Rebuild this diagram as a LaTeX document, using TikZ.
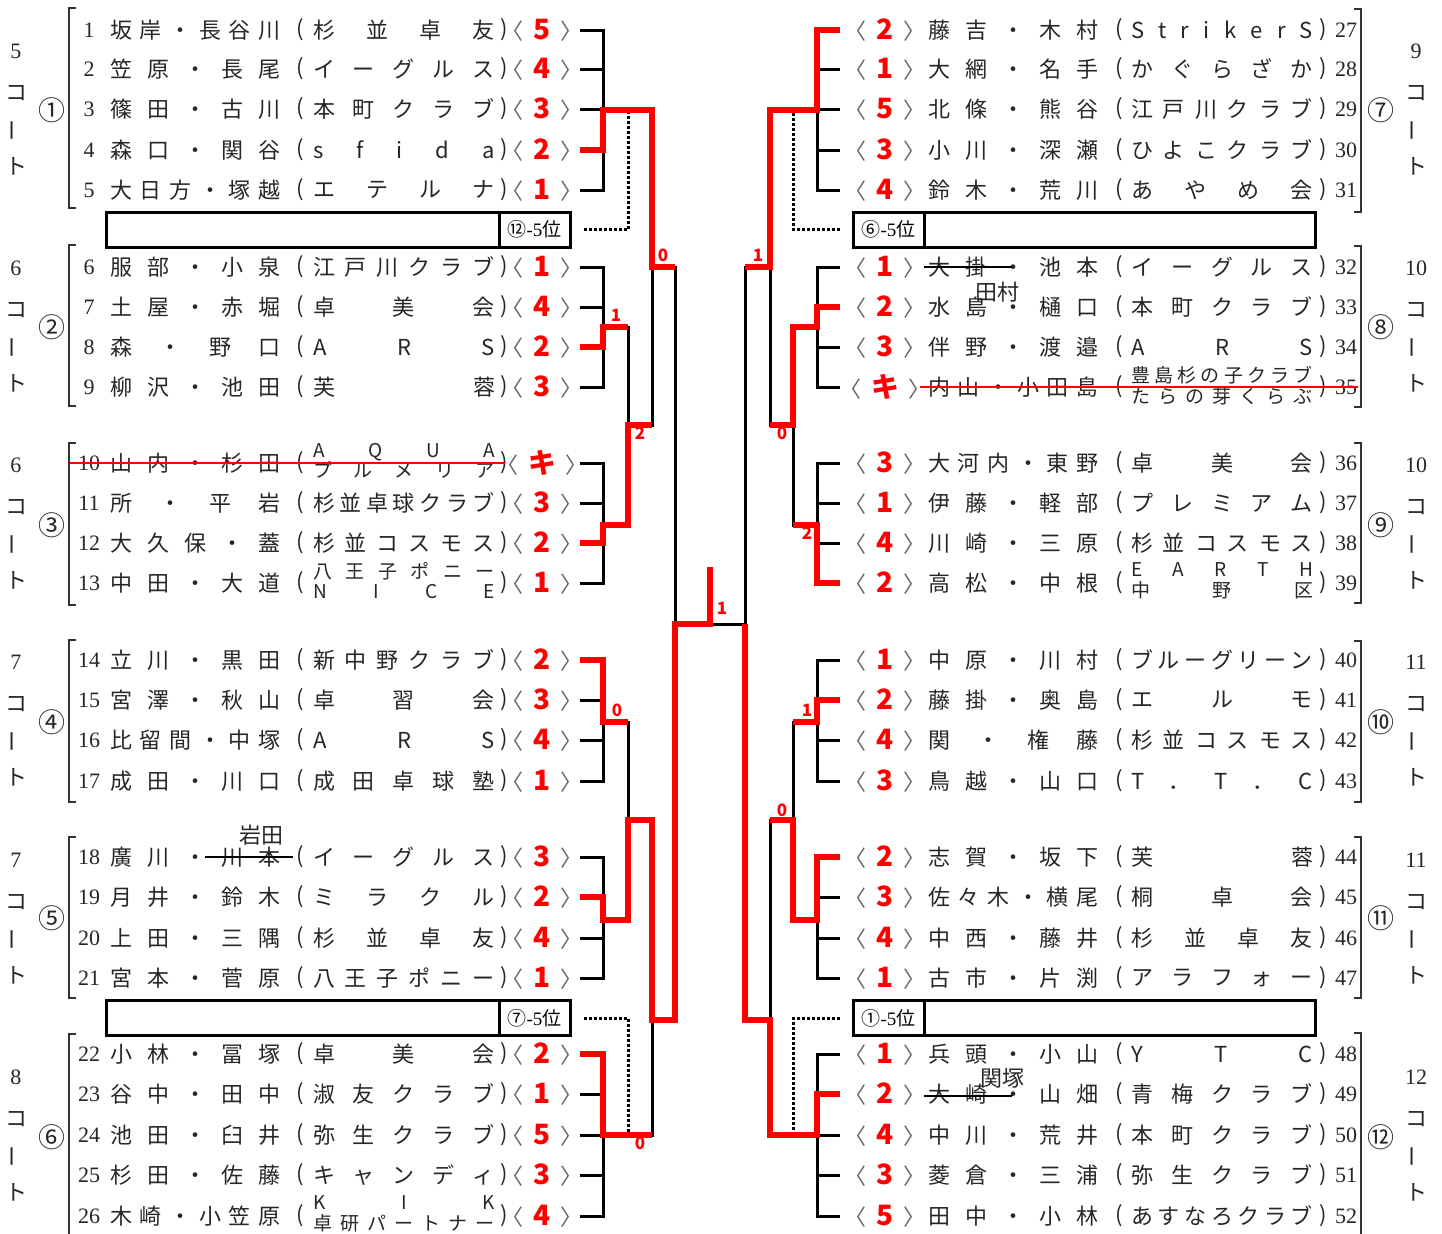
\documentclass[tikz,border=0pt]{standalone}
\usepackage{fontspec}
\newfontfamily\jp{Noto Sans CJK JP}
\newfontfamily\sernum{Liberation Serif}
\usetikzlibrary{calc}

\newcommand\namew{85pt}
\newcommand\clubw{91pt}
\newcommand\rank[1]{\textcolor{red}{\fontsize{14}{14}\selectfont\bfseries #1}}
\newcommand\twoline[2]{{\fontsize{9.5}{8.5}\selectfont\begin{tabular}{@{}c@{}}\makebox[\clubw][s]{#1}\\\makebox[\clubw][s]{#2}\end{tabular}}}

% left entry: number, y, pair, club, rank
\newcommand\lrow[5]{%
  \node[numtxt] (no#1) at (89,#2) {#1};
  \node[jtxt,anchor=west] (nm#1) at (110,#2) {\makebox[\namew][s]{#3}};
  \node[jtxt] (po#1) at (300,#2) {(};
  \node[jtxt] (cl#1) at (404,#2) {\makebox[\clubw][s]{#4}};
  \node[jtxt] (pc#1) at (504,#2) {)};
  \node[jtxt,text=black!60] (sc#1) at (542,#2) {〈\hspace{4.8pt}\rank{#5}\hspace{4.8pt}〉};
  \coordinate (t#1) at (580,#2);
  \coordinate (a#1) at (603,#2);
}
% right entry: number, y, pair, club, rank
\newcommand\rrow[5]{%
  \coordinate (t#1) at (840,#2);
  \coordinate (a#1) at (817,#2);
  \node[jtxt,text=black!60] (sc#1) at (885,#2) {〈\hspace{4.8pt}\rank{#5}\hspace{4.8pt}〉};
  \node[jtxt,anchor=west] (nm#1) at (928,#2) {\makebox[\namew][s]{#3}};
  \node[jtxt] (po#1) at (1119,#2) {(};
  \node[jtxt] (cl#1) at (1222,#2) {\makebox[\clubw][s]{#4}};
  \node[jtxt] (pc#1) at (1323,#2) {)};
  \node[numtxt] (no#1) at (1346,#2) {#1};
}
% court label: id, x, centre y, court number
\newcommand\court[4]{%
  \node[numtxt] (cn#1) at (#2,#3-59) {#4};
  \node[jtxt] (cc#1) at (#2,#3-17) {コ};
  \node[jtxt,rotate=90] (cb#1) at (#2,#3+20) {ー};
  \node[jtxt] (ck#1) at (#2,#3+56) {ト};
}
% group bracket: x, tick x, top, bottom
\newcommand\grp[4]{\draw[brk] (#2,#3) -- (#1,#3) -- (#1,#4) -- (#2,#4);}

\begin{document}
\begin{tikzpicture}[x=0.5pt, y=-0.5pt,
    jtxt/.style={font=\jp\fontsize{11}{12}\selectfont, inner sep=0pt, text=black!85},
    numtxt/.style={font=\sernum\fontsize{11}{12}\selectfont, inner sep=0pt, text=black!85},
    circtxt/.style={font=\jp\fontsize{13.5}{14}\selectfont, inner sep=0pt, text=black!85},
    wire/.style={line width=1.5pt},
    win/.style={line width=3.4pt, red, line join=miter},
    dotwire/.style={line width=1.5pt, dash pattern=on 1.5pt off 1pt},
    brk/.style={line width=0.7pt, black!80},
    slot/.style={draw, line width=1.5pt, minimum height=17.5pt, inner sep=0pt, font=\jp\fontsize{9.5}{10}\selectfont},
    setlbl/.style={font=\jp\bfseries\fontsize{8.5}{9}\selectfont, text=red, inner sep=0pt},
    strike/.style={line width=1pt}
]
\useasboundingbox (0,0) rectangle (1442,1233);

% entries, left half
\lrow{1}{30}{坂 岸 ・ 長 谷 川}{杉 並 卓 友}{5}
\lrow{2}{69}{笠 原 ・ 長 尾}{イ ー グ ル ス}{4}
\lrow{3}{109}{篠 田 ・ 古 川}{本 町 ク ラ ブ}{3}
\lrow{4}{150}{森 口 ・ 関 谷}{s f i d a}{2}
\lrow{5}{190}{大 日 方 ・ 塚 越}{エ テ ル ナ}{1}
\lrow{6}{267}{服 部 ・ 小 泉}{江 戸 川 ク ラ ブ}{1}
\lrow{7}{307}{土 屋 ・ 赤 堀}{卓 美 会}{4}
\lrow{8}{347}{森 ・ 野 口}{A R S}{2}
\lrow{9}{387}{柳 沢 ・ 池 田}{芙 蓉}{3}
\lrow{10}{463}{山 内 ・ 杉 田}{\twoline{A Q U A}{プ ル メ リ ア}}{キ}
\lrow{11}{503}{所 ・ 平 岩}{杉 並 卓 球 ク ラ ブ}{3}
\lrow{12}{543}{大 久 保 ・ 蓋}{杉 並 コ ス モ ス}{2}
\lrow{13}{583}{中 田 ・ 大 道}{\twoline{八 王 子 ポ ニ ー}{N I C E}}{1}
\lrow{14}{660}{立 川 ・ 黒 田}{新 中 野 ク ラ ブ}{2}
\lrow{15}{700}{宮 澤 ・ 秋 山}{卓 習 会}{3}
\lrow{16}{740}{比 留 間 ・ 中 塚}{A R S}{4}
\lrow{17}{781}{成 田 ・ 川 口}{成 田 卓 球 塾}{1}
\lrow{18}{857}{廣 川 ・ 川 本}{イ ー グ ル ス}{3}
\lrow{19}{897}{月 井 ・ 鈴 木}{ミ ラ ク ル}{2}
\lrow{20}{938}{上 田 ・ 三 隅}{杉 並 卓 友}{4}
\lrow{21}{978}{宮 本 ・ 菅 原}{八 王 子 ポ ニ ー}{1}
\lrow{22}{1054}{小 林 ・ 冨 塚}{卓 美 会}{2}
\lrow{23}{1094}{谷 中 ・ 田 中}{淑 友 ク ラ ブ}{1}
\lrow{24}{1135}{池 田 ・ 臼 井}{弥 生 ク ラ ブ}{5}
\lrow{25}{1175}{杉 田 ・ 佐 藤}{キ ャ ン デ ィ}{3}
\lrow{26}{1216}{木 崎 ・ 小 笠 原}{\twoline{K I K}{卓 研 パ ー ト ナ ー}}{4}

% entries, right half
\rrow{27}{30}{藤 吉 ・ 木 村}{S t r i k e r S}{2}
\rrow{28}{69}{大 網 ・ 名 手}{か ぐ ら ざ か}{1}
\rrow{29}{109}{北 條 ・ 熊 谷}{江 戸 川 ク ラ ブ}{5}
\rrow{30}{150}{小 川 ・ 深 瀬}{ひ よ こ ク ラ ブ}{3}
\rrow{31}{190}{鈴 木 ・ 荒 川}{あ や め 会}{4}
\rrow{32}{267}{大 掛 ・ 池 本}{イ ー グ ル ス}{1}
\rrow{33}{307}{水 島 ・ 樋 口}{本 町 ク ラ ブ}{2}
\rrow{34}{347}{伴 野 ・ 渡 邉}{A R S}{3}
\rrow{35}{387}{内 山 ・ 小 田 島}{\twoline{豊 島 杉 の 子 ク ラ ブ}{た ら の 芽 く ら ぶ}}{キ}
\rrow{36}{463}{大 河 内 ・ 東 野}{卓 美 会}{3}
\rrow{37}{503}{伊 藤 ・ 軽 部}{プ レ ミ ア ム}{1}
\rrow{38}{543}{川 崎 ・ 三 原}{杉 並 コ ス モ ス}{4}
\rrow{39}{583}{高 松 ・ 中 根}{\twoline{E A R T H}{中 野 区}}{2}
\rrow{40}{660}{中 原 ・ 川 村}{ブ ル ー グ リ ー ン}{1}
\rrow{41}{700}{藤 掛 ・ 奥 島}{エ ル モ}{2}
\rrow{42}{740}{関 ・ 権 藤}{杉 並 コ ス モ ス}{4}
\rrow{43}{781}{鳥 越 ・ 山 口}{T ． T ． C}{3}
\rrow{44}{857}{志 賀 ・ 坂 下}{芙 蓉}{2}
\rrow{45}{897}{佐 々 木 ・ 横 尾}{桐 卓 会}{3}
\rrow{46}{938}{中 西 ・ 藤 井}{杉 並 卓 友}{4}
\rrow{47}{978}{古 市 ・ 片 渕}{ア ラ フ ォ ー}{1}
\rrow{48}{1054}{兵 頭 ・ 小 山}{Y T C}{1}
\rrow{49}{1094}{大 崎 ・ 山 畑}{青 梅 ク ラ ブ}{2}
\rrow{50}{1135}{中 川 ・ 荒 井}{本 町 ク ラ ブ}{4}
\rrow{51}{1175}{菱 倉 ・ 三 浦}{弥 生 ク ラ ブ}{3}
\rrow{52}{1216}{田 中 ・ 小 林}{あ す な ろ ク ラ ブ}{5}

% corrections
\draw[strike,red] (68,463) -- (505,463);
\draw[strike,red] (920,387) -- (1358,387);
\draw[strike] (205,857) -- (293,857);
\draw[strike] (924,267) -- (1012,267);
\draw[strike] (924,1096) -- (1012,1096);
\node[jtxt] (fix18) at (261,835) {岩田};
\node[jtxt] (fix32) at (997,292) {田村};
\node[jtxt] (fix49) at (1002,1078) {関塚};

% group brackets, circled numbers, courts
\grp{69}{76}{8}{208}   \grp{69}{76}{245}{406}  \grp{69}{76}{443}{605}
\grp{69}{76}{640}{802} \grp{69}{76}{837}{998}  \grp{69}{76}{1034}{1245}
\grp{1361}{1354}{9}{212}   \grp{1361}{1354}{246}{407}  \grp{1361}{1354}{443}{603}
\grp{1361}{1354}{641}{802} \grp{1361}{1354}{837}{998}  \grp{1361}{1354}{1033}{1245}
\node[circtxt] (ci1) at (52,110) {①};
\node[circtxt] (ci2) at (52,327) {②};
\node[circtxt] (ci3) at (52,525) {③};
\node[circtxt] (ci4) at (52,722) {④};
\node[circtxt] (ci5) at (52,918) {⑤};
\node[circtxt] (ci6) at (52,1137) {⑥};
\node[circtxt] (ci7) at (1381,110) {⑦};
\node[circtxt] (ci8) at (1381,327) {⑧};
\node[circtxt] (ci9) at (1381,525) {⑨};
\node[circtxt] (ci10) at (1381,722) {⑩};
\node[circtxt] (ci11) at (1381,918) {⑪};
\node[circtxt] (ci12) at (1381,1137) {⑫};
\court{1}{16}{110}{5}
\court{2}{16}{327}{6}
\court{3}{16}{524}{6}
\court{4}{16}{721}{7}
\court{5}{16}{919}{7}
\court{6}{16}{1136}{8}
\court{7}{1416}{110}{9}
\court{8}{1416}{327}{10}
\court{9}{1416}{524}{10}
\court{10}{1416}{721}{11}
\court{11}{1416}{919}{11}
\court{12}{1416}{1136}{12}

% fifth-place slots
\node[slot,minimum width=232pt] (bx1) at (338,229.5) {};
\node[slot,minimum width=35.5pt,anchor=east] (lb1) at (bx1.east) {⑫{\sernum -5}位};
\node[slot,minimum width=231pt] (bx2) at (1084,229.5) {};
\node[slot,minimum width=35.5pt,anchor=west] (lb2) at (bx2.west) {⑥{\sernum -5}位};
\node[slot,minimum width=232pt] (bx3) at (338,1018) {};
\node[slot,minimum width=35.5pt,anchor=east] (lb3) at (bx3.east) {⑦{\sernum -5}位};
\node[slot,minimum width=231pt] (bx4) at (1084,1018) {};
\node[slot,minimum width=35.5pt,anchor=west] (lb4) at (bx4.west) {①{\sernum -5}位};

% joints
\coordinate (g1) at (603,110);  \coordinate (g2) at (603,327);  \coordinate (g3) at (603,525);
\coordinate (g4) at (603,722);  \coordinate (g5) at (603,920);  \coordinate (g6) at (603,1135);
\coordinate (q23) at (628,425); \coordinate (q45) at (628,820);
\coordinate (s1) at (652,267);  \coordinate (s2) at (652,1020);
\coordinate (f1) at (675,624);  \coordinate (champ) at (710,624); \coordinate (crown) at (710,567);
\coordinate (g7) at (817,110);  \coordinate (g8) at (817,327);  \coordinate (g9) at (817,525);
\coordinate (g10) at (817,722); \coordinate (g11) at (817,920); \coordinate (g12) at (817,1135);
\coordinate (q89) at (793,425); \coordinate (q1011) at (793,820);
\coordinate (s3) at (770,267);  \coordinate (s4) at (770,1020);
\coordinate (f2) at (745,624);
\coordinate (d1) at (628,113);  \coordinate (d2) at (793,113);
\coordinate (d3) at (628,1132); \coordinate (d4) at (793,1132);

% bracket lines
\draw[wire] (t1) -- (a1) -- (a5) -- (t5) (t2) -- (a2) (t3) -- (a3) (t4) -- (a4);
\draw[wire] (t6) -- (a6) -- (a9) -- (t9) (t7) -- (a7) (t8) -- (a8);
\draw[wire] (t10) -- (a10) -- (a13) -- (t13) (t11) -- (a11) (t12) -- (a12);
\draw[wire] (t14) -- (a14) -- (a17) -- (t17) (t15) -- (a15) (t16) -- (a16);
\draw[wire] (t18) -- (a18) -- (a21) -- (t21) (t19) -- (a19) (t20) -- (a20);
\draw[wire] (t22) -- (a22) -- (a26) -- (t26) (t23) -- (a23) (t24) -- (a24) (t25) -- (a25);
\draw[wire] (t27) -- (a27) -- (a31) -- (t31) (t28) -- (a28) (t29) -- (a29) (t30) -- (a30);
\draw[wire] (t32) -- (a32) -- (a35) -- (t35) (t33) -- (a33) (t34) -- (a34);
\draw[wire] (t36) -- (a36) -- (a39) -- (t39) (t37) -- (a37) (t38) -- (a38);
\draw[wire] (t40) -- (a40) -- (a43) -- (t43) (t41) -- (a41) (t42) -- (a42);
\draw[wire] (t44) -- (a44) -- (a47) -- (t47) (t45) -- (a45) (t46) -- (a46);
\draw[wire] (t48) -- (a48) -- (a52) -- (t52) (t49) -- (a49) (t50) -- (a50) (t51) -- (a51);
\draw[wire] (g1) -| (s1) (g2) -| (q23) (g3) -| (q23) (q23) -| (s1) (s1) -| (f1);
\draw[wire] (g6) -| (s2) (g4) -| (q45) (g5) -| (q45) (q45) -| (s2) (s2) -| (f1);
\draw[wire] (g7) -| (s3) (g8) -| (q89) (g9) -| (q89) (q89) -| (s3) (s3) -| (f2);
\draw[wire] (g12) -| (s4) (g10) -| (q1011) (g11) -| (q1011) (q1011) -| (s4) (s4) -| (f2);
\draw[wire] (f1) -- (f2);

% links to fifth-place slots
\draw[dotwire,shorten <=6pt] (lb1.east) -| (d1);
\draw[dotwire,shorten <=6pt] (lb2.west) -| (d2);
\draw[dotwire,shorten <=6pt] (lb3.east) -| (d3);
\draw[dotwire,shorten <=6pt] (lb4.west) -| (d4);

% winners
\draw[win] (t4) -- (a4) -- (g1) -| (s1) -- (s1 -| f1);
\draw[win] (t8) -- (a8) -- (g2) -- (g2 -| q23);
\draw[win] (t12) -- (a12) -- (g3) -| (q23) -- (q23 -| s1);
\draw[win] (t14) -- (a14) -- (g4) -- (g4 -| q45);
\draw[win] (t19) -- (a19) -- (g5) -| (q45) -| (s2) -| (f1) -- (champ) -- (crown);
\draw[win] (t22) -- (a22) -- (g6) -- (g6 -| s2);
\draw[win] (t27) -- (a27) -- (g7) -| (s3) -- (s3 -| f2);
\draw[win] (t33) -- (a33) -- (g8) -| (q89) -- (q89 -| s3);
\draw[win] (t39) -- (a39) -- (g9) -- (g9 -| q89);
\draw[win] (t41) -- (a41) -- (g10) -- (g10 -| q1011);
\draw[win] (t44) -- (a44) -- (g11) -| (q1011) -- (q1011 -| s4);
\draw[win] (t49) -- (a49) -- (g12) -| (s4) -| (f2);

% set counts
\node[setlbl] (w1) at (663,255) {0};
\node[setlbl] (w2) at (616,315) {1};
\node[setlbl] (w3) at (640,433) {2};
\node[setlbl] (w4) at (617,710) {0};
\node[setlbl] (w5) at (640,1143) {0};
\node[setlbl] (w6) at (722,608) {1};
\node[setlbl] (w7) at (758,255) {1};
\node[setlbl] (w8) at (782,433) {0};
\node[setlbl] (w9) at (807,533) {2};
\node[setlbl] (w10) at (807,710) {1};
\node[setlbl] (w11) at (782,810) {0};
\end{tikzpicture}
\end{document}
